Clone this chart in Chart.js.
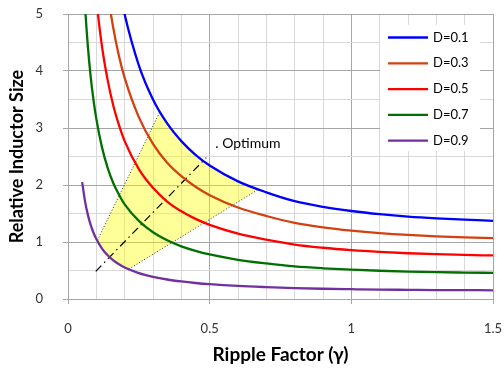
<!DOCTYPE html>
<html>
<head>
<meta charset="utf-8">
<script src="https://cdn.jsdelivr.net/npm/chart.js@4"></script>
<style>
  html, body { margin: 0; padding: 0; background: #fff; }
</style>
</head>
<body>
<canvas id="inductorChart" width="504" height="369"></canvas>
<script>
// ripple factor values shared by all curves
const gamma = [0.05, 0.06, 0.07, 0.08, 0.09, 0.1, 0.12, 0.14, 0.16, 0.18, 0.2, 0.25, 0.3, 0.35, 0.4, 0.45, 0.5, 0.6, 0.7, 0.8, 0.9, 1.0, 1.1, 1.2, 1.3, 1.4, 1.5];

// relative inductor size per duty cycle (null = off the top of the plot)
const sizeD01 = [null, null, null, null, null, null, null, null, 6.10, 5.48, 4.99, 4.10, 3.50, 3.08, 2.77, 2.53, 2.342, 2.064, 1.872, 1.717, 1.617, 1.544, 1.488, 1.445, 1.414, 1.391, 1.372];
const sizeD03 = [null, null, null, null, null, null, 6.20, 5.37, 4.75, 4.26, 3.88, 3.19, 2.72, 2.39, 2.155, 1.969, 1.821, 1.605, 1.456, 1.336, 1.258, 1.201, 1.157, 1.124, 1.100, 1.082, 1.068];
const sizeD05 = [null, null, null, null, 5.82, 5.26, 4.43, 3.84, 3.39, 3.05, 2.77, 2.28, 1.95, 1.71, 1.539, 1.406, 1.301, 1.147, 1.040, 0.954, 0.899, 0.858, 0.827, 0.803, 0.786, 0.773, 0.764];
const sizeD07 = [6.15, 5.15, 4.44, 3.90, 3.49, 3.16, 2.66, 2.30, 2.03, 1.83, 1.66, 1.37, 1.17, 1.03, 0.924, 0.844, 0.781, 0.688, 0.624, 0.572, 0.539, 0.515, 0.496, 0.482, 0.471, 0.464, 0.458];
const sizeD09 = [2.051, 1.718, 1.480, 1.301, 1.163, 1.052, 0.885, 0.767, 0.678, 0.609, 0.554, 0.455, 0.389, 0.342, 0.308, 0.281, 0.260, 0.229, 0.208, 0.191, 0.180, 0.172, 0.165, 0.161, 0.157, 0.155, 0.153];

const seriesLabels = ["D=0.1", "D=0.3", "D=0.5", "D=0.7", "D=0.9"];
const seriesColors = ["#0000ff", "#d2410f", "#ff0000", "#007000", "#7030a0"];
const seriesValues = [sizeD01, sizeD03, sizeD05, sizeD07, sizeD09];

// yellow optimum region: corners on the D=0.9 and D=0.1 curves
const regionGamma = [0.104, 0.324, 0.35, 0.4, 0.45, 0.5, 0.6, 0.671, 0.215, 0.2, 0.18, 0.16, 0.14, 0.12];
const regionSize  = [1.03, 3.28, 3.08, 2.77, 2.53, 2.342, 2.064, 1.92, 0.525, 0.554, 0.609, 0.678, 0.767, 0.885];

// dotted edges of the region
const leftEdgeGamma = [0.104, 0.324];
const leftEdgeSize = [1.03, 3.28];
const rightEdgeGamma = [0.215, 0.671];
const rightEdgeSize = [0.525, 1.92];

// dash-dot optimum line
const optimumGamma = [0.098, 0.488];
const optimumSize = [0.485, 2.48];
const optimumNote = { text: ". Optimum", x: 0.52, y: 2.73 };

const toPoints = (xs, ys) => xs.map((x, i) => ({ x: x, y: ys[i] })).filter(p => p.y !== null);
const isMajor = (v, step) => Math.abs(v / step - Math.round(v / step)) < 1e-6;

const curveSets = seriesValues.map((vals, i) => ({
  label: seriesLabels[i],
  data: toPoints(gamma, vals),
  borderColor: seriesColors[i],
  borderWidth: 2.3,
  pointRadius: 0,
  fill: false,
  cubicInterpolationMode: "monotone",
  clip: 0,
  order: 0
}));

const extraSets = [
  {
    label: "region",
    data: toPoints(regionGamma, regionSize),
    borderWidth: 0,
    borderColor: "rgba(0,0,0,0)",
    backgroundColor: "rgba(255, 255, 0, 0.4)",
    fill: "shape",
    pointRadius: 0,
    order: 3
  },
  {
    label: "leftEdge",
    data: toPoints(leftEdgeGamma, leftEdgeSize),
    borderColor: "#000",
    borderWidth: 0.8,
    borderDash: [1, 2],
    pointRadius: 0,
    order: 2
  },
  {
    label: "rightEdge",
    data: toPoints(rightEdgeGamma, rightEdgeSize),
    borderColor: "#000",
    borderWidth: 0.8,
    borderDash: [1, 2],
    pointRadius: 0,
    order: 2
  },
  {
    label: "optimum",
    data: toPoints(optimumGamma, optimumSize),
    borderColor: "#000",
    borderWidth: 1.2,
    borderDash: [8, 4, 1.5, 4],
    pointRadius: 0,
    order: 1
  }
];

// legend box drawn inside the plot, plus the "Optimum" note
const overlayPlugin = {
  id: "overlay",
  afterDraw(chart) {
    const ctx = chart.ctx;
    const xs = chart.scales.x, ys = chart.scales.y;
    ctx.save();
    ctx.font = "14px Lato";
    ctx.fillStyle = "#000";
    ctx.textBaseline = "middle";
    ctx.textAlign = "left";
    ctx.fillText(optimumNote.text, xs.getPixelForValue(optimumNote.x), ys.getPixelForValue(optimumNote.y));

    ctx.fillStyle = "#fff";
    ctx.fillRect(380, 25, 100, 126);
    ctx.font = "13px Lato";
    seriesLabels.forEach((lab, i) => {
      const yy = 37.5 + i * 25.8;
      ctx.strokeStyle = seriesColors[i];
      ctx.lineWidth = 2.3;
      ctx.beginPath();
      ctx.moveTo(388, yy);
      ctx.lineTo(428, yy);
      ctx.stroke();
      ctx.fillStyle = "#000";
      ctx.fillText(lab, 433, yy);
    });
    ctx.restore();
  }
};

new Chart(document.getElementById("inductorChart"), {
  type: "line",
  data: { datasets: curveSets.concat(extraSets) },
  options: {
    responsive: false,
    animation: false,
    layout: { padding: { top: 14, right: 11, left: 0, bottom: 0 } },
    plugins: {
      legend: { display: false },
      tooltip: { enabled: false }
    },
    scales: {
      x: {
        type: "linear",
        min: 0,
        max: 1.5,
        afterFit: s => { s.height = 70; s.paddingLeft = 0; s.paddingRight = 8; },
        ticks: {
          stepSize: 0.1,
          autoSkip: false,
          maxRotation: 0,
          padding: 17,
          color: "#333",
          font: { family: "Lato", size: 13 },
          callback: v => isMajor(v, 0.5) ? String(Math.round(v * 10) / 10) : ""
        },
        grid: {
          color: c => (c.tick && isMajor(c.tick.value, 0.5)) ? "#a6a6a6" : "#d9d9d9",
          tickColor: c => (c.tick && isMajor(c.tick.value, 0.5)) ? "#a6a6a6" : "rgba(0,0,0,0)",
          tickLength: 5
        },
        border: { color: "#a6a6a6" },
        title: {
          display: true,
          text: "Ripple Factor (\u03b3)",
          color: "#000",
          font: { family: "Lato", size: 19, weight: "bold" },
          padding: { top: 4, bottom: 3 }
        }
      },
      y: {
        min: 0,
        max: 5,
        afterFit: s => { s.width = 68; s.paddingTop = 8; s.paddingBottom = 8; },
        ticks: {
          stepSize: 0.5,
          padding: 20,
          color: "#333",
          font: { family: "Lato", size: 13 },
          callback: v => isMajor(v, 1) ? String(v) : ""
        },
        grid: {
          color: c => (c.tick && isMajor(c.tick.value, 1)) ? "#a6a6a6" : "#d9d9d9",
          tickColor: c => (c.tick && isMajor(c.tick.value, 1)) ? "#a6a6a6" : "rgba(0,0,0,0)",
          tickLength: 5
        },
        border: { color: "#a6a6a6" },
        title: {
          display: true,
          text: "Relative Inductor Size",
          color: "#000",
          font: { family: "Lato", size: 18, weight: "bold" },
          padding: { top: 6, bottom: 0 }
        }
      }
    }
  },
  plugins: [overlayPlugin]
});
</script>
</body>
</html>
